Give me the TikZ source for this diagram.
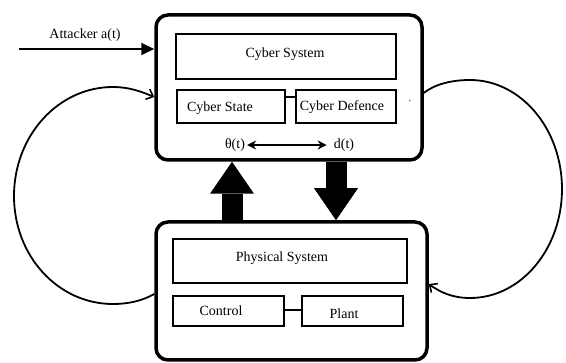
\documentclass[tikz,border=0pt]{standalone}
\usepackage{fontspec}
\setmainfont{Liberation Serif}
\usetikzlibrary{arrows.meta,calc}
\begin{document}
\begin{tikzpicture}[x=1pt,y=-1pt,
  outerbox/.style={draw,line width=3.5pt,rounded corners=12pt,minimum width=#1},
  innerbox/.style={draw,line width=2pt,inner sep=0pt},
  txt/.style={font=\fontsize{14}{16}\selectfont,inner sep=0pt},
  bigarrow/.style={line width=21pt,-{Triangle[length=32pt,width=44pt,line width=0pt]}},
  loopline/.style={line width=1.8pt,-{Straight Barb[length=6pt,width=11pt,line width=1.6pt]}}]
\useasboundingbox (0,0) rectangle (566,363);
% outer boxes
\node[draw,line width=3.5pt,rounded corners=12pt,minimum width=266pt,minimum height=145pt,inner sep=0pt] (cyber) at (289,87.5) {};
\node[draw,line width=3.5pt,rounded corners=12pt,minimum width=271pt,minimum height=138pt,inner sep=0pt] (phys) at (291.5,291) {};
% cyber inner
\node[innerbox,minimum width=220pt,minimum height=45pt] (cybsys) at (286,56.5) {};
\node[txt] (cybsyst) at (285,54) {Cyber System};
\node[innerbox,minimum width=108pt,minimum height=33pt] (cybstate) at (231,106.5) {};
\node[txt] (cybstatet) at (220,108) {Cyber State};
\node[innerbox,minimum width=100pt,minimum height=33pt] (cybdef) at (346,106.5) {};
\node[txt] (cybdeft) at (342,107) {Cyber Defence};
\draw[line width=2pt] ($(cybstate.north east)+(0,8)$) -- ($(cybdef.north west)+(0,8)$);
\node[txt,font=\fontsize{8}{8}\selectfont] (tick) at (410,103) {'};
% theta / d
\node[txt] (theta) at (235,145) {θ(t)};
\node[txt] (dt) at (344,145) {d(t)};
\draw[line width=1.6pt,{Stealth[length=9pt,width=9pt]}-{Stealth[length=9pt,width=9pt]}] ($(theta.east)+(2,0)$) -- ($(dt.west)+(-7,0)$);
% physical inner
\node[innerbox,minimum width=234pt,minimum height=44pt] (physsys) at (290,261) {};
\node[txt] (physsyst) at (282,258) {Physical System};
\node[innerbox,minimum width=111pt,minimum height=30pt] (control) at (228.5,311) {};
\node[txt] (controlt) at (221,311) {Control};
\node[innerbox,minimum width=101pt,minimum height=30pt] (plant) at (352.5,311) {};
\node[txt] (plantt) at (344,314) {Plant};
\draw[line width=2pt] ($(control.east)+(0,-1)$) -- ($(plant.west)+(0,-1)$);
% thick arrows
\coordinate (xup) at (232,0);
\coordinate (xdn) at (336,0);
\draw[bigarrow] (phys.north -| xup) -- (cyber.south -| xup);
\draw[bigarrow] (cyber.south -| xdn) -- (phys.north -| xdn);
% attacker
\coordinate (att) at (19,49);
\node[txt] (attt) at (85,35) {Attacker a(t)};
\draw[line width=2pt,-{Triangle[length=13pt,width=12pt]}] (att) -- (cyber.west |- att);
% left loop
\coordinate (l1) at (phys.west |- 0,294);
\coordinate (l2) at (cyber.west |- 0,97);
\draw[loopline] (l1) .. controls (142,301) and (128,304) .. (113,304)
  .. controls (58,304) and (14,256) .. (14,196)
  .. controls (14,136) and (58,87) .. (113,87)
  .. controls (128,87) and (140,91) .. (l2);
% right loop
\coordinate (r1) at (cyber.east |- 0,93);
\coordinate (r2) at (phys.east |- 0,284);
\draw[loopline] (r1) .. controls (435,84) and (452,80) .. (470,80)
  .. controls (521,80) and (562,129) .. (562,189)
  .. controls (562,249) and (521,298) .. (470,298)
  .. controls (452,298) and (440,292) .. (r2);
\end{tikzpicture}
\end{document}
